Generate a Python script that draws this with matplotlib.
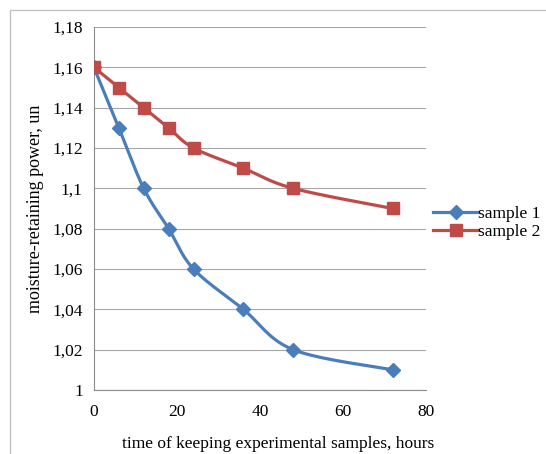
import numpy as np
import matplotlib
matplotlib.use("Agg")
from matplotlib import pyplot as plt
from matplotlib.ticker import FuncFormatter
from matplotlib.patches import Rectangle

hours = [0, 6, 12, 18, 24, 36, 48, 72]
sample1 = [1.16, 1.13, 1.10, 1.08, 1.06, 1.04, 1.02, 1.01]
sample2 = [1.16, 1.15, 1.14, 1.13, 1.12, 1.11, 1.10, 1.09]


def smooth(xs, ys, sx, sy, n=20):
    # catmull-rom through the points, done in scaled space so it looks like excel smoothing
    p = np.column_stack([np.array(xs) / sx, np.array(ys) / sy])
    p = np.vstack([p[0], p, p[-1]])
    out = []
    for i in range(1, len(p) - 2):
        p0, p1, p2, p3 = p[i - 1], p[i], p[i + 1], p[i + 2]
        for t in np.linspace(0, 1, n, endpoint=False):
            t2, t3 = t * t, t * t * t
            pt = 0.5 * ((2 * p1) + (-p0 + p2) * t + (2 * p0 - 5 * p1 + 4 * p2 - p3) * t2
                        + (-p0 + 3 * p1 - 3 * p2 + p3) * t3)
            out.append(pt)
    out.append(p[-2])
    out = np.array(out)
    return out[:, 0] * sx, out[:, 1] * sy


plt.rcParams['font.family'] = ['Liberation Serif', 'DejaVu Serif']
fs = 12.5

fig = plt.figure(figsize=(5.46, 4.54), dpi=100)
# outer chart border: only left and top edges fall inside the picture
fig.patches.append(Rectangle((10 / 546, -0.05), 1.1, 1.05 - 10 / 454, transform=fig.transFigure,
                             fill=False, edgecolor="#bfbfbf", linewidth=0.9))
ax = fig.add_axes([0.172, 0.141, 0.608, 0.7995])

blue = "#4a7ebb"
red = "#be4b48"
sx, sy = 80 / 332.0, 0.18 / 363.0
x1, y1 = smooth(hours, sample1, sx, sy)
x2, y2 = smooth(hours, sample2, sx, sy)
ax.plot(x1, y1, color=blue, lw=2.3, zorder=3)
ax.plot(x2, y2, color=red, lw=2.3, zorder=3)
ax.plot(hours, sample1, ls="none", marker="D", ms=7, color=blue, zorder=4)
ax.plot(hours, sample2, ls="none", marker="s", ms=8, color=red, zorder=4)
ax.plot([], [], color=blue, lw=2.3, marker="D", ms=7, label="sample 1")
ax.plot([], [], color=red, lw=2.3, marker="s", ms=8, label="sample 2")

ax.set_xlim(0, 80)
ax.set_ylim(1, 1.18)
ax.set_xticks([0, 20, 40, 60, 80])
ax.set_yticks(np.arange(1, 1.181, 0.02))
ax.yaxis.set_major_formatter(FuncFormatter(lambda v, p: ("%g" % round(v, 2)).replace(".", ",")))
ax.grid(axis="y", color="#a6a6a6", lw=0.8)
ax.set_axisbelow(True)
for s in ["top", "right"]:
    ax.spines[s].set_visible(False)
for s in ["left", "bottom"]:
    ax.spines[s].set_color("#8c8c8c")
ax.tick_params(axis="both", length=0, labelsize=fs, pad=8)
ax.tick_params(axis="x", pad=10)
ax.set_xlabel("time of keeping experimental samples, hours", size=fs)
ax.xaxis.set_label_coords(0.555, -0.128)
ax.set_ylabel("moisture-retaining power, un", size=13, labelpad=6)

leg = ax.legend(loc="center left", bbox_to_anchor=(0.985, 0.46), frameon=False, fontsize=fs,
                handlelength=2.6, handletextpad=0.0, borderaxespad=0.3, labelspacing=0.15)

fig.savefig("out.png", dpi=100)
